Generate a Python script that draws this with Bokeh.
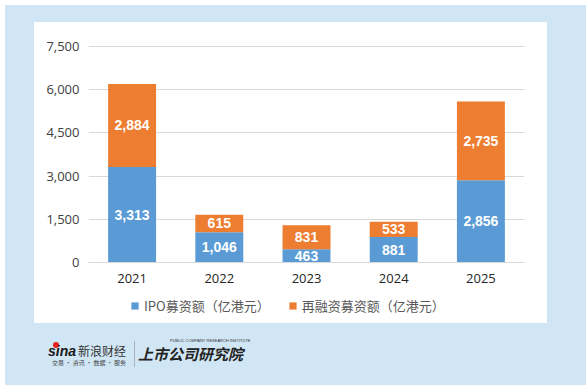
from bokeh.plotting import figure
from bokeh.layouts import column
from bokeh.core.properties import value
from bokeh.models import (ColumnDataSource, FactorRange, Range1d, LabelSet, Div,
                          Legend, LegendItem, NumeralTickFormatter, FixedTicker)
from bokeh.embed import file_html
from bokeh.resources import INLINE

years = ["2021", "2022", "2023", "2024", "2025"]
ipo = [3313, 1046, 463, 881, 2856]
refin = [2884, 615, 831, 533, 2735]
y_ticks = [0, 1500, 3000, 4500, 6000, 7500]
series_names = ["IPO募资额（亿港元）", "再融资募资额（亿港元）"]

BLUE = "#5b9bd5"
ORANGE = "#ed7d31"
BG = "#d1e6f4"
CJK = "Noto Sans CJK SC"
NUM = "Open Sans"
BOLD = "Liberation Sans"

# ---------------- main chart (white panel) ----------------
src = ColumnDataSource(dict(year=years, ipo=ipo, refin=refin))

p = figure(x_range=FactorRange(*years), y_range=Range1d(0, 7600),
           width=513, height=270, output_backend="svg", toolbar_location=None,
           min_border_left=54, min_border_right=23, min_border_top=21, min_border_bottom=30,
           margin=(17, 33, 0, 29), styles={"background-color": "white"})
p.border_fill_color = "white"
p.background_fill_color = "white"
p.outline_line_color = None

rs = p.vbar_stack(["ipo", "refin"], x="year", width=0.55, color=[BLUE, ORANGE],
                  line_color=None, source=src)

lx, ly, lt = [], [], []
for yr, a, b in zip(years, ipo, refin):
    lx += [yr, yr]
    ly += [a / 2, a + b / 2]
    lt += [f"{a:,}", f"{b:,}"]
lsrc = ColumnDataSource(dict(x=lx, y=ly, t=lt))
p.add_layout(LabelSet(x="x", y="y", text="t", source=lsrc, text_align="center",
                      text_baseline="middle", text_color="white", text_font=value(BOLD),
                      text_font_style="bold", text_font_size="14px"))

p.yaxis.ticker = FixedTicker(ticks=y_ticks)
p.yaxis.formatter = NumeralTickFormatter(format="0,0")
p.yaxis.axis_line_color = None
p.yaxis.major_tick_line_color = None
p.yaxis.minor_tick_line_color = None
p.yaxis.major_tick_out = 0
p.yaxis.major_tick_in = 0
p.yaxis.major_label_standoff = 9
p.yaxis.major_label_text_font = NUM
p.yaxis.major_label_text_font_size = "13px"
p.yaxis.major_label_text_color = "#404040"

p.xaxis.axis_line_color = "#d9d9d9"
p.xaxis.major_tick_line_color = None
p.xaxis.minor_tick_line_color = None
p.xaxis.major_tick_out = 0
p.xaxis.major_tick_in = 0
p.xaxis.major_label_standoff = 11
p.xaxis.major_label_text_font = NUM
p.xaxis.major_label_text_font_size = "13px"
p.xaxis.major_label_text_color = "#262626"

p.xgrid.grid_line_color = None
p.ygrid.grid_line_color = "#d9d9d9"
p.ygrid.ticker = FixedTicker(ticks=y_ticks)

# ---------------- legend strip (hidden proxies of the same series) ----------------
legfig = figure(width=513, height=31, output_backend="svg", toolbar_location=None,
                x_range=FactorRange(*years), y_range=Range1d(0, 7600),
                x_axis_type=None, y_axis_type=None,
                min_border_left=54, min_border_right=23, min_border_top=0, min_border_bottom=0,
                margin=(0, 33, 0, 29), styles={"background-color": "white"})
legfig.border_fill_color = "white"
legfig.background_fill_color = "white"
legfig.outline_line_color = None
proxies = legfig.vbar_stack(["ipo", "refin"], x="year", width=0.55, color=[BLUE, ORANGE],
                            line_color=None, source=src)
for r in proxies:
    r.visible = False
legend = Legend(items=[LegendItem(label=series_names[0], renderers=[proxies[0]]),
                       LegendItem(label=series_names[1], renderers=[proxies[1]])],
                orientation="horizontal", location=(42, 8),
                margin=0, padding=4, spacing=18, label_standoff=5,
                glyph_width=9, glyph_height=9,
                border_line_color=None, background_fill_alpha=0,
                inactive_fill_alpha=0,
                label_text_font=CJK, label_text_font_size="13px",
                label_text_color="#595959")
legfig.add_layout(legend)

# ---------------- footer with source logos ----------------
footer_html = f"""
<div style="position:relative;width:575px;height:52px;color:#2b2b2b;line-height:1;">
  <span style="position:absolute;left:43px;top:14px;width:6px;height:6px;border-radius:50%;background:#e2231a;"></span>
  <span style="position:absolute;left:38px;top:16px;font-family:'{BOLD}';font-weight:bold;font-style:italic;font-size:14px;color:#1a1a1a;">sina</span>
  <span style="position:absolute;left:68px;top:17px;font-family:'{CJK}';font-size:12px;color:#333;">新浪财经</span>
  <span style="position:absolute;left:42px;top:32px;font-family:'{CJK}';font-size:6px;color:#444;white-space:nowrap;">交易 · 资讯 · 数据 · 服务</span>
  <span style="position:absolute;left:124px;top:13px;width:1px;height:26px;background:#aab4bd;"></span>
  <span style="position:absolute;left:160px;top:11px;font-family:'{BOLD}';font-size:4px;color:#333;white-space:nowrap;">PUBLIC COMPANY RESEARCH INSTITUTE</span>
  <span style="position:absolute;left:128px;top:18px;font-family:'{CJK}';font-weight:bold;font-style:italic;font-size:15px;color:#222;white-space:nowrap;">上市公司研究院</span>
</div>
"""
footer = Div(text=footer_html, width=575, height=52)

layout = column(p, legfig, footer, styles={"background-color": BG}, margin=(5, 0, 0, 5))

open("out.html", "w").write(file_html(layout, INLINE))
